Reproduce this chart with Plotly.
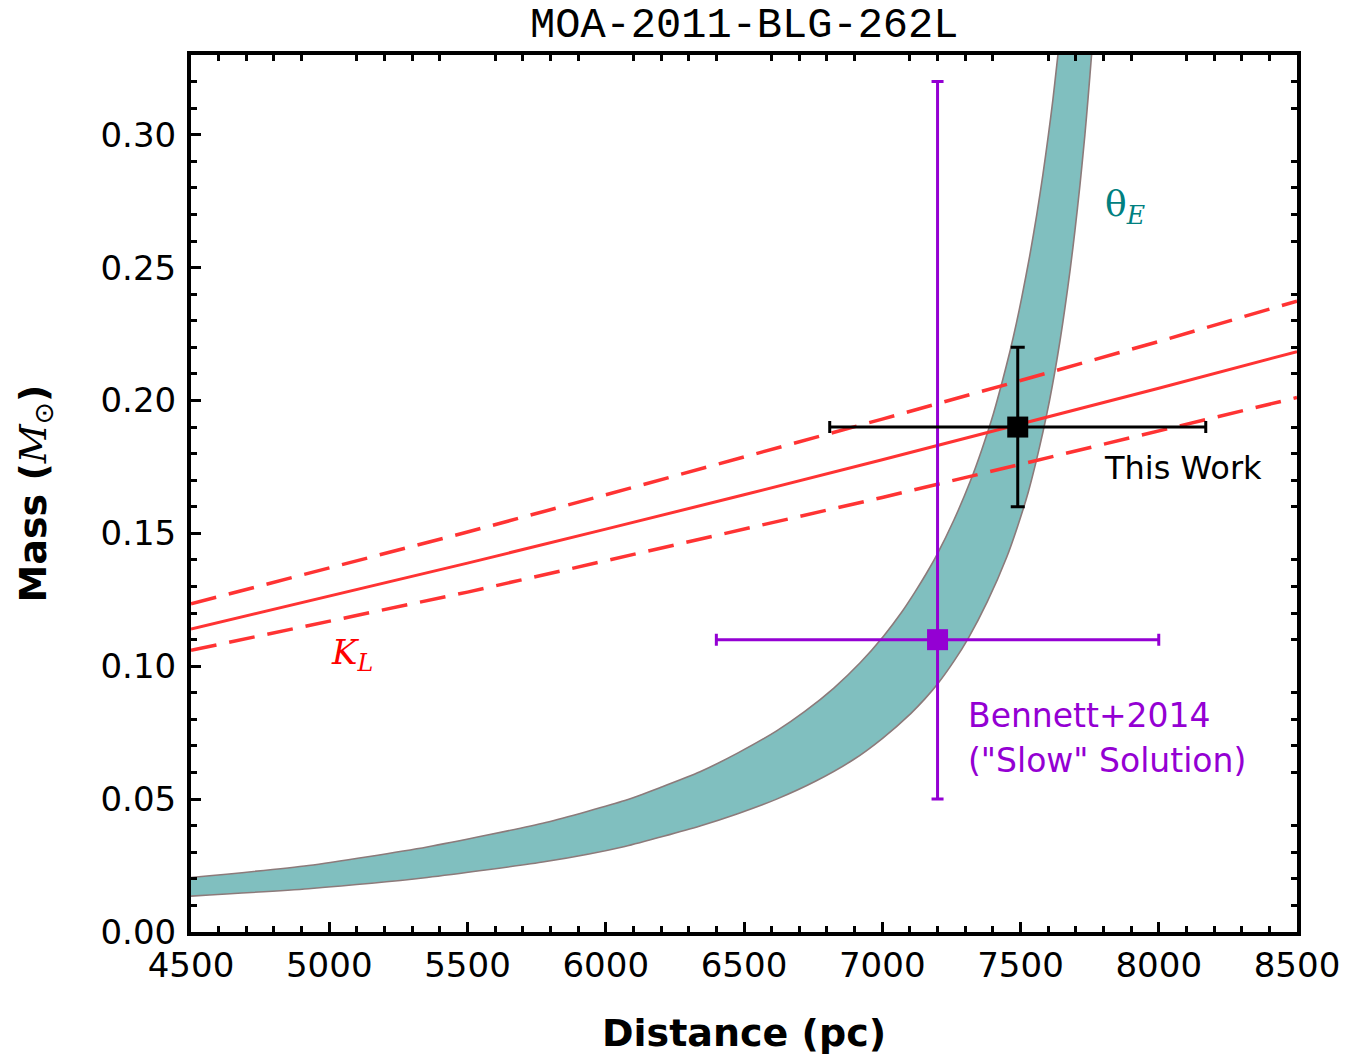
import plotly.graph_objects as go

# ---------------- data ----------------
# theta_E band: upper (left) edge and lower (right) edge, Distance (pc) vs Mass (Msun)
band_upper_d = [4500, 4925, 5354, 5783, 6069, 6200, 6341, 6480, 6618, 6720, 6825, 6920,
                7006, 7070, 7117, 7160, 7197, 7260, 7318, 7360, 7402, 7435, 7462, 7485,
                7504, 7533, 7559, 7581, 7601, 7617, 7631, 7645]
band_upper_m = [0.0205, 0.0250, 0.0320, 0.0412, 0.0495, 0.0545, 0.0603, 0.0675, 0.0757,
                0.0830, 0.0918, 0.1013, 0.1115, 0.1203, 0.1277, 0.1350, 0.1418, 0.1552,
                0.1695, 0.1815, 0.1950, 0.2075, 0.2185, 0.2290, 0.2385, 0.2542, 0.2700,
                0.2850, 0.3000, 0.3130, 0.3260, 0.3390]
band_lower_d = [4500, 4925, 5354, 5783, 6069, 6341, 6480, 6618, 6760, 6895, 7000, 7103,
                7155, 7200, 7260, 7311, 7380, 7450, 7490, 7528, 7556, 7582, 7605, 7625,
                7644, 7661, 7680, 7697, 7715, 7733, 7745, 7757, 7766]
band_lower_m = [0.0135, 0.0163, 0.0205, 0.0265, 0.0322, 0.0399, 0.0446, 0.0500, 0.0568,
                0.0648, 0.0728, 0.0822, 0.0878, 0.0933, 0.1020, 0.1105, 0.1243, 0.1410,
                0.1528, 0.1655, 0.1768, 0.1885, 0.2000, 0.2112, 0.2232, 0.2350, 0.2495,
                0.2640, 0.2810, 0.3000, 0.3145, 0.3300, 0.3430]

# K_L constraint (mass-luminosity), central and +/- 1 sigma
kl_d = [4500, 5000, 5500, 6000, 6500, 7000, 7500, 8000, 8500]
kl_mid = [0.1140, 0.1263, 0.1388, 0.1516, 0.1645, 0.1777, 0.1911, 0.2046, 0.2184]
kl_hi = [0.1235, 0.1370, 0.1505, 0.1645, 0.1786, 0.1930, 0.2075, 0.2222, 0.2374]
kl_lo = [0.1060, 0.1168, 0.1279, 0.1397, 0.1515, 0.1635, 0.1760, 0.1884, 0.2011]

# This work
tw_d, tw_d_err = [7490], [680]
tw_m, tw_m_err = [0.19], [0.03]

# Bennett+2014 ("Slow" solution)
bn_d, bn_d_err = [7200], [800]
bn_m, bn_m_plus, bn_m_minus = [0.11], [0.21], [0.06]

x_range = [4500, 8500]
y_range = [0, 0.33]
x_major = [4500, 5000, 5500, 6000, 6500, 7000, 7500, 8000, 8500]
y_major = [0.00, 0.05, 0.10, 0.15, 0.20, 0.25, 0.30]

# ---------------- styling ----------------
TEAL_FILL = "#80bfbf"
EDGE = "#8c7a7a"
RED = "#ff3333"
PURPLE = "#9400d3"
TICK_FONT = dict(family="DejaVu Sans", size=34, color="black")
W, H = 1364, 1054   # page body adds 8 px margin

fig = go.Figure()

# band edges (lower first, upper fills to it)
fig.add_trace(go.Scatter(x=band_lower_d, y=band_lower_m, mode="lines",
                         line=dict(color=EDGE, width=1.6, shape="spline", smoothing=0.6),
                         showlegend=False, hoverinfo="skip"))
fig.add_trace(go.Scatter(x=band_upper_d, y=band_upper_m, mode="lines", fill="tonexty",
                         fillcolor=TEAL_FILL,
                         line=dict(color=EDGE, width=1.6, shape="spline", smoothing=0.6),
                         showlegend=False, hoverinfo="skip"))

# K_L lines
fig.add_trace(go.Scatter(x=kl_d, y=kl_hi, mode="lines",
                         line=dict(color=RED, width=3.5, dash="26px,13px"), showlegend=False))
fig.add_trace(go.Scatter(x=kl_d, y=kl_lo, mode="lines",
                         line=dict(color=RED, width=3.5, dash="26px,13px"), showlegend=False))
fig.add_trace(go.Scatter(x=kl_d, y=kl_mid, mode="lines",
                         line=dict(color=RED, width=3), showlegend=False))

# Bennett+2014
fig.add_trace(go.Scatter(
    x=bn_d, y=bn_m, mode="markers",
    marker=dict(symbol="square", size=21, color=PURPLE),
    error_x=dict(type="data", array=bn_d_err, color=PURPLE, thickness=3, width=6),
    error_y=dict(type="data", symmetric=False, array=bn_m_plus, arrayminus=bn_m_minus,
                 color=PURPLE, thickness=3, width=6),
    showlegend=False))

# This work
fig.add_trace(go.Scatter(
    x=tw_d, y=tw_m, mode="markers",
    marker=dict(symbol="square", size=21, color="black"),
    error_x=dict(type="data", array=tw_d_err, color="black", thickness=3, width=6),
    error_y=dict(type="data", array=tw_m_err, color="black", thickness=3, width=7),
    showlegend=False))

# invisible trace to activate the mirrored minor-tick axes
fig.add_trace(go.Scatter(x=[None], y=[None], xaxis="x2", yaxis="y2", showlegend=False))

x_minor_only = [v for v in range(4600, 8500, 100) if v % 500 != 0]
y_minor_only = [round(i * 0.01, 2) for i in range(1, 33) if i % 5 != 0]

fig.update_layout(
    width=W, height=H,
    margin=dict(l=183, r=75, t=47, b=130),
    paper_bgcolor="white", plot_bgcolor="white",
    xaxis=dict(range=x_range, tickvals=x_major, ticks="inside", ticklen=10, tickwidth=3,
               tickcolor="black", showline=True, linewidth=4, linecolor="black", mirror=True,
               showgrid=False, zeroline=False, tickfont=TICK_FONT,
               minor=dict(dtick=100, ticks="inside", ticklen=6, tickwidth=3, tickcolor="black",
                          showgrid=False)),
    yaxis=dict(range=y_range, tickvals=y_major, tickformat=".2f", ticks="inside", ticklen=10,
               tickwidth=3, tickcolor="black", showline=True, linewidth=4, linecolor="black",
               mirror=True, showgrid=False, zeroline=False, tickfont=TICK_FONT,
               ticklabelstandoff=4,
               minor=dict(dtick=0.01, ticks="inside", ticklen=6, tickwidth=3, tickcolor="black",
                          showgrid=False)),
    xaxis2=dict(range=x_range, overlaying="x", side="top", tickvals=x_minor_only,
                ticks="inside", ticklen=6, tickwidth=3, tickcolor="black",
                showticklabels=False, showgrid=False, zeroline=False, showline=False),
    yaxis2=dict(range=y_range, overlaying="y", side="right", tickvals=y_minor_only,
                ticks="inside", ticklen=6, tickwidth=3, tickcolor="black",
                showticklabels=False, showgrid=False, zeroline=False, showline=False),
)

# chart title
fig.add_annotation(text="MOA-2011-BLG-262L", xref="paper", yref="paper", x=0.5, y=1,
                   xanchor="center", yanchor="bottom", yshift=3, showarrow=False,
                   font=dict(family="Liberation Mono", size=42, color="black"))

# axis titles
fig.add_annotation(text="<b>Distance (pc)</b>", xref="paper", yref="paper", x=0.5,
                   y=(932 - 1033) / 877, xanchor="center", yanchor="middle", showarrow=False,
                   font=dict(family="DejaVu Sans", size=38, color="black"))
fig.add_annotation(text="<b>Mass (</b><span style='font-family:DejaVu Serif'><i>M</i></span>"
                        "<sub>⊙</sub><b>)</b>",
                   xref="paper", yref="paper", x=(35 - 191) / 1106, y=0.5, textangle=-90,
                   xanchor="center", yanchor="middle", showarrow=False,
                   font=dict(family="DejaVu Sans", size=38, color="black"))

# in-plot labels
fig.add_annotation(text="θ<sub><i>E</i></sub>", x=7878, y=0.273, showarrow=False,
                   font=dict(family="DejaVu Serif", size=36, color="#008080"))
fig.add_annotation(text="<i>K</i><sub><i>L</i></sub>", x=5082, y=0.1044, showarrow=False,
                   font=dict(family="DejaVu Serif", size=34, color="red"))
fig.add_annotation(text="This Work", x=8088, y=0.1745, showarrow=False,
                   font=dict(family="DejaVu Sans", size=32, color="black"))
fig.add_annotation(text="Bennett+2014", x=7303, y=0.0815,
                   xanchor="left", showarrow=False,
                   font=dict(family="DejaVu Sans", size=33, color=PURPLE))
fig.add_annotation(text="(\"Slow\" Solution)", x=7303, y=0.0646,
                   xanchor="left", showarrow=False,
                   font=dict(family="DejaVu Sans", size=33, color=PURPLE))

fig.write_html("out.html")
